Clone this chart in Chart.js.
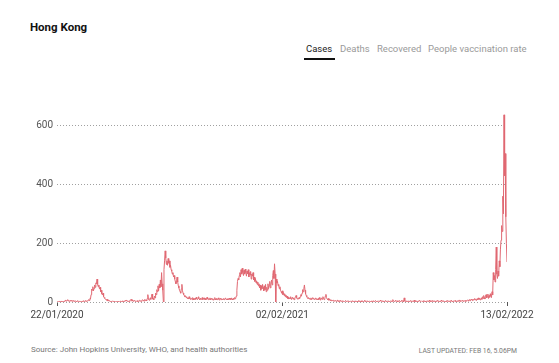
<!DOCTYPE html>
<html>
<head>
<meta charset="utf-8">
<script src="https://cdn.jsdelivr.net/npm/chart.js@4.4.1/dist/chart.umd.min.js"></script>
<style>
  body { margin: 0; background: #fff; font-family: Roboto, "Noto Sans", sans-serif; }
  #wrap { position: relative; width: 559px; height: 363px; overflow: hidden; }
  .title { position: absolute; left: 30px; top: 20px; font-size: 11.5px; font-weight: 700; color: #111; }
  .tab { position: absolute; top: 43px; font-size: 9.5px; color: #9a9a9a; white-space: nowrap; }
  .tab.on { color: #222; }
  .underline { position: absolute; left: 304px; top: 58px; width: 31px; height: 2px; background: #111; }
  .foot { position: absolute; top: 345px; font-size: 8px; color: #777; white-space: nowrap; }
  #box { position: absolute; left: 0; top: 90px; width: 559px; height: 240px; }
</style>
</head>
<body>
<div id="wrap">
  <div class="title">Hong Kong</div>
  <div class="tab on" style="left:306px">Cases</div>
  <div class="tab" style="left:340px">Deaths</div>
  <div class="tab" style="left:377px">Recovered</div>
  <div class="tab" style="left:428px">People vaccination rate</div>
  <div class="underline"></div>
  <div id="box"><canvas id="chart"></canvas></div>
  <div class="foot" style="left:31px">Source: John Hopkins University, WHO, and health authorities</div>
  <div class="foot" style="right:42px;font-size:6.8px;top:347px">LAST UPDATED: FEB 16, 5.06PM</div>
</div>
<script>
// daily new cases, one value per day starting 22/01/2020
const cases2020 = [
  0, 0, 1, 0, 2, 3, 1, 2, 0, 1,
  // feb
  2, 1, 3, 2, 6, 4, 3, 5, 8, 4, 3, 2, 5, 3, 4, 6, 2, 3, 5, 2, 4, 3, 2, 1, 4, 3, 1, 2, 3,
  // mar
  1, 2, 1, 3, 2, 4, 2, 1, 3, 5, 2, 4, 3, 6, 8, 5, 12, 10, 25, 44, 40, 52, 38, 46, 58, 50, 65, 62, 78, 60, 52,
  // apr
  58, 45, 50, 35, 40, 28, 24, 30, 18, 15, 12, 10, 8, 6, 9, 4, 5, 3, 4, 2, 3, 1, 2, 4, 1, 0, 2, 1, 0, 1,
  // may
  0, 1, 0, 2, 0, 1, 3, 1, 0, 2, 4, 1, 3, 2, 5, 3, 6, 4, 2, 1, 3, 2, 5, 8, 4, 10, 6, 3, 2, 5, 4,
  // jun
  3, 2, 4, 1, 5, 3, 2, 6, 4, 3, 2, 5, 8, 4, 6, 3, 9, 5, 7, 4, 12, 25, 10, 6, 8, 14, 9, 18, 27, 10,
  // jul
  12, 8, 20, 14, 30, 25, 42, 35, 55, 38, 60, 48, 75, 52, 100, 62, 40, 0, 110, 140, 174, 150, 128, 140, 125, 148, 132, 140, 118, 125, 110,
  // aug
  105, 95, 100, 85, 90, 78, 70, 62, 72, 85, 68, 55, 48, 40, 35, 30, 45, 60, 38, 30, 25, 22, 18, 20, 15, 18, 12, 14, 10, 18, 12,
  // sep
  9, 14, 11, 8, 15, 12, 7, 10, 13, 9, 16, 11, 8, 12, 18, 10, 7, 13, 9, 11, 15, 8, 10, 14, 9, 12, 7, 11, 16, 10,
  // oct
  8, 12, 9, 14, 7, 10, 13, 8, 11, 6, 9, 15, 10, 7, 12, 8, 11, 14, 9, 6, 10, 13, 8, 11, 7, 9, 12, 8, 10, 14, 9,
  // nov
  8, 11, 7, 10, 13, 9, 12, 8, 14, 10, 7, 12, 9, 15, 11, 13, 20, 40, 70, 80, 75, 90, 100, 85, 110, 95, 115, 100, 90, 108,
  // dec
  95, 112, 100, 88, 105, 96, 110, 85, 100, 92, 104, 78, 95, 88, 100, 75, 85, 70, 80, 65, 72, 60, 68, 55, 62, 48, 58, 40, 55, 45, 60
];
const cases2021 = [
  50, 38, 55, 42, 60, 35, 50, 40, 62, 45, 55, 70, 48, 60, 75, 58, 90, 107, 80, 130, 95, 0, 78, 65, 70, 55, 60, 45, 52, 40, 35,
  30, 38, 25, 32, 22, 28, 18, 24, 15, 20, 12, 16, 10, 14, 12, 18, 9, 13, 16, 10, 14, 8, 12, 18, 22, 15, 10, 12,
  10, 15, 12, 18, 25, 20, 30, 42, 35, 45, 58, 40, 28, 22, 18, 14, 12, 15, 10, 12, 9, 14, 8, 11, 15, 10, 12, 8, 10, 14, 9,
  10, 7, 12, 8, 15, 10, 6, 11, 14, 9, 18, 12, 8, 10, 20, 26, 15, 10, 8, 12, 6, 9, 5, 8, 4, 7, 5, 3, 6, 4,
  3, 5, 2, 4, 6, 3, 1, 4, 2, 5, 3, 1, 2, 4, 3, 2, 1, 3, 5, 2, 1, 3, 2, 4, 1, 2, 3, 1, 2, 4, 2,
  1, 3, 2, 1, 4, 2, 3, 1, 2, 5, 3, 1, 2, 4, 1, 3, 2, 1, 3, 6, 2, 1, 3, 2, 4, 1, 2, 3, 1, 2,
  3, 1, 2, 4, 2, 1, 3, 5, 2, 1, 3, 2, 4, 1, 2, 6, 3, 1, 2, 4, 3, 1, 2, 3, 5, 2, 1, 3, 2, 4, 1,
  2, 3, 1, 4, 2, 8, 3, 1, 2, 5, 3, 2, 4, 1, 3, 2, 5, 1, 2, 3, 6, 2, 4, 1, 14, 3, 2, 1, 4, 2, 3,
  2, 4, 1, 3, 5, 2, 1, 3, 4, 2, 6, 1, 3, 2, 4, 1, 3, 2, 5, 3, 1, 2, 4, 2, 3, 1, 5, 2, 3, 1,
  3, 2, 4, 1, 3, 6, 2, 1, 4, 2, 3, 5, 1, 2, 4, 3, 1, 2, 5, 3, 2, 4, 1, 3, 2, 6, 3, 1, 2, 4, 2,
  3, 1, 4, 2, 3, 5, 2, 1, 3, 4, 2, 6, 3, 1, 2, 4, 3, 5, 2, 1, 3, 4, 2, 5, 3, 7, 2, 4, 3, 5,
  3, 2, 5, 4, 2, 6, 3, 4, 7, 5, 3, 8, 6, 4, 9, 7, 5, 10, 6, 8, 12, 7, 9, 5, 11, 8, 14, 9, 12, 7, 10
];
const cases2022 = [
  14, 9, 18, 12, 22, 15, 10, 20, 25, 14, 18, 27, 12, 22, 16, 28, 20, 15, 35, 24, 100, 75, 90, 68, 110, 187, 95, 80, 105, 88, 140,
  120, 180, 210, 260, 240, 360, 300, 637, 430, 505, 290, 200, 136
];
const dailyCases = cases2020.concat(cases2021, cases2022);

const tickDays = [0, 377, 753];
const tickLabels = ["22/01/2020", "02/02/2021", "13/02/2022"];
const yTicks = [0, 200, 400, 600];

const points = dailyCases.map((v, i) => ({ x: i, y: v }));

new Chart(document.getElementById("chart"), {
  type: "line",
  data: {
    datasets: [{
      data: points,
      borderColor: "rgb(224, 104, 114)",
      borderWidth: 1,
      pointRadius: 0,
      tension: 0,
      fill: false,
    }],
  },
  options: {
    responsive: true,
    maintainAspectRatio: false,
    animation: false,
    layout: { padding: { left: 0, right: 52, top: 21, bottom: 8 } },
    plugins: { legend: { display: false }, tooltip: { enabled: false } },
    scales: {
      x: {
        type: "linear",
        min: 0,
        max: 753,
        afterBuildTicks: (axis) => { axis.ticks = tickDays.map((v) => ({ value: v })); },
        afterFit: (axis) => { axis.height = 20; },
        grid: { drawOnChartArea: false, drawTicks: true, tickLength: 4, color: "#555" },
        border: { display: false },
        ticks: {
          autoSkip: false,
          maxRotation: 0,
          padding: 3,
          color: "#444",
          font: { family: "Roboto", size: 10 },
          callback: (v) => tickLabels[tickDays.indexOf(v)],
        },
      },
      y: {
        min: 0,
        max: 650,
        afterBuildTicks: (axis) => { axis.ticks = yTicks.map((v) => ({ value: v })); },
        afterFit: (axis) => { axis.width = 57; },
        grid: { drawTicks: false, color: "#a0a0a0" },
        border: { display: false, dash: [1, 2] },
        ticks: {
          padding: 4,
          color: "#555",
          font: { family: "Roboto", size: 10 },
        },
      },
    },
  },
});
</script>
</body>
</html>
